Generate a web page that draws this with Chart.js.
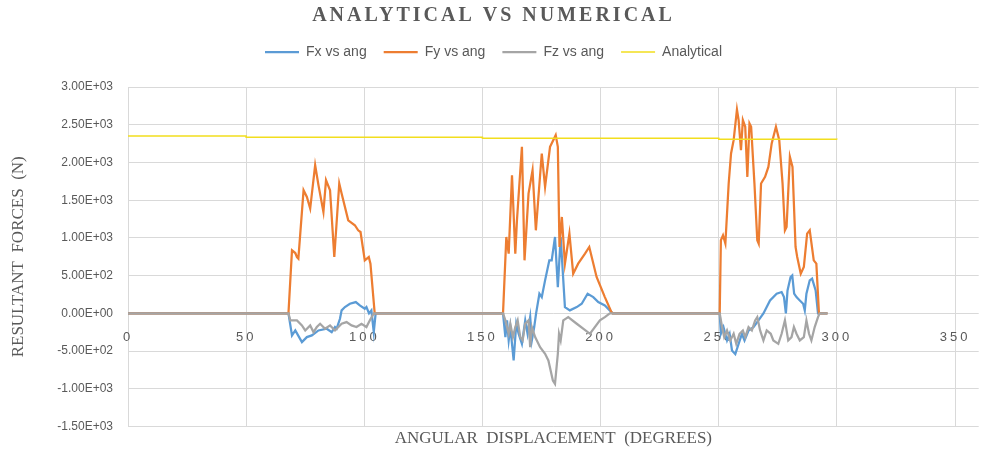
<!DOCTYPE html>
<html>
<head>
<meta charset="utf-8">
<title>Analytical vs Numerical</title>
<script src="https://cdn.jsdelivr.net/npm/chart.js@4/dist/chart.umd.min.js"></script>
<style>
  html, body { margin: 0; padding: 0; background: #ffffff; }
  #wrap { width: 982px; height: 453px; }
</style>
</head>
<body>
<div id="wrap"><canvas id="chart" width="982" height="453"></canvas></div>
<script>
// Resultant force components [angle (deg), force (N)]
const fxVsAng = [
  [0,0],
  [67.9,0],[69.4,-292],[70.8,-226],[73.6,-380],[75.7,-314],[77.8,-292],[80.6,-226],[84.1,-203],
  [86.2,-248],[87.6,-181],[88.3,-203],[89.7,-71],[90.4,40],[91.8,84],[93.9,128],[96.4,150],
  [98.1,106],[100.2,62],[100.9,84],[102.0,0],[103.0,40],[104.0,-248],[104.8,0],
  [158.7,0],[159.7,-314],[160.4,-93],[161.1,-358],[161.8,-181],[163.2,-624],[164.3,-137],
  [165.3,-270],[166.7,-403],[168.1,-93],[169.1,-270],[170.2,-49],[170.9,-358],[171.9,-181],
  [172.7,0],[174.1,261],[175.1,216],[176.5,438],[178.3,703],[179.3,703],[180.7,1013],
  [181.9,349],[183.1,1013],[184.9,84],[187.0,40],[189.9,84],[192.0,128],[194.5,261],
  [196.9,216],[199.0,150],[201.8,106],[204.6,17],[205.1,0],
  [250.4,0],[250.9,-270],[252.0,-181],[253.5,-358],[254.6,-270],[255.6,-491],[257.0,-540],
  [258.4,-403],[259.8,-270],[260.9,-358],[262.6,-226],[264.7,-181],[266.8,-93],[268.9,0],
  [271.7,172],[274.5,261],[276.6,283],[277.6,216],[278.4,0],[279.1,305],[280.4,482],
  [281.1,504],[281.9,261],[282.9,216],[284.3,172],[285.7,128],[286.4,40],[287.1,261],
  [288.5,438],[289.5,460],[291.0,305],[292.0,0],
  [296,0]
];

const fyVsAng = [
  [0,0],
  [67.9,0],[69.4,836],[70.8,800],[71.5,747],[72.1,726],[74.3,1632],[75.7,1544],[77.1,1389],
  [79.2,1964],[80.6,1700],[82.7,1345],[83.8,1765],[85.5,1632],[87.3,747],[89.4,1721],
  [90.4,1588],[93.2,1234],[96.0,1168],[97.4,1101],[98.4,1079],[100.2,703],[101.9,747],
  [102.6,659],[104.4,0],
  [158.7,0],[160.1,1013],[161.1,792],[162.5,1831],[163.9,792],[164.6,1234],[166.7,2207],
  [167.8,703],[169.5,1588],[171.2,1898],[172.6,1101],[175.1,2119],[176.5,1676],[178.6,2207],
  [181.0,2362],[181.9,2207],[182.6,880],[183.6,1278],[184.9,659],[186.8,1057],[188.4,527],
  [190.5,659],[193.4,792],[195.2,880],[198.3,482],[201.8,216],[204.6,17],[205.1,0],
  [250.4,0],[250.9,969],[251.8,1035],[252.8,925],[254.2,1721],[255.2,2119],[256.3,2296],
  [257.7,2700],[258.4,2561],[259.4,2163],[260.2,2561],[261.2,2473],[262.1,1809],[263.0,2517],
  [263.7,2473],[265.1,1721],[266.3,969],[266.9,925],[267.9,1721],[269.6,1809],[271.0,1941],
  [272.4,2252],[274.2,2473],[275.6,2296],[277.0,1721],[278.0,1101],[278.7,1145],[280.1,2075],
  [281.2,1941],[282.5,880],[283.2,747],[284.7,527],[286.0,614],[287.4,1057],[288.5,1101],
  [290.2,703],[291.3,659],[292.4,0],
  [296,0]
];

const fzVsAng = [
  [0,0],
  [67.9,0],[68.7,-93],[71.5,-93],[73.6,-159],[75.0,-226],[77.1,-159],[78.5,-248],[79.9,-181],
  [81.3,-137],[83.4,-203],[85.5,-159],[87.6,-226],[90.4,-137],[92.5,-115],[94.6,-159],
  [96.7,-181],[98.8,-137],[100.9,-181],[102.3,-93],[104.0,0],
  [158.7,0],[159.7,-93],[161.1,-270],[161.8,-137],[162.9,-314],[163.9,-181],[164.9,-93],
  [166.0,-314],[167.0,-358],[168.1,-137],[169.5,-93],[170.2,-447],[170.9,-181],[172.3,-314],
  [174.4,-447],[176.5,-535],[177.9,-624],[179.8,-889],[180.7,-933],[181.9,-535],[182.4,-270],
  [183.1,-358],[184.2,-93],[186.3,-49],[189.9,-137],[195.5,-270],[199.7,-93],[201.8,-49],
  [203.9,0],
  [250.4,0],[251.4,-181],[252.3,-314],[253.5,-226],[254.9,-358],[256.3,-270],[257.4,-403],
  [258.8,-270],[260.2,-226],[261.2,-314],[262.6,-181],[264.0,-226],[265.4,-93],[266.3,-49],
  [267.5,-226],[268.9,-358],[270.3,-226],[272.0,-270],[273.1,-358],[275.2,-403],[276.6,-270],
  [278.0,-93],[279.4,-358],[280.8,-314],[281.8,-181],[282.9,-270],[284.3,-358],[286.0,-314],
  [287.1,-93],[288.2,-270],[289.2,-358],[290.6,-181],[292.0,-49],[292.7,0],
  [296,0]
];

// Analytical resultant, held constant between steps
const analyticalForce = [[0,2350],[50,2335],[150,2320],[250,2308],[300,2305]];

// Axis ticks
const angleTicks = [0, 50, 100, 150, 200, 250, 300, 350];
const forceTicks = [-1500, -1000, -500, 0, 500, 1000, 1500, 2000, 2500, 3000];

const textGray = '#595959';
const gridGray = '#d9d9d9';
const serif = '"Liberation Serif", "Times New Roman", serif';
const sans = '"Liberation Sans", Arial, sans-serif';

const toXY = pts => pts.map(([x, y]) => ({ x, y }));

// 3.00E+03 style labels
const sci = v => {
  const [m, e] = Number(v).toExponential(2).split('e');
  const n = parseInt(e, 10);
  return m + 'E' + (n < 0 ? '-' : '+') + String(Math.abs(n)).padStart(2, '0');
};

// Letter-spaced text for the title and angle labels, extra room under the legend
const withSpacing = (obj, method, spacing) => {
  if (!obj || obj['_spaced_' + method]) return;
  const orig = obj[method];
  obj[method] = function (...args) {
    const c = this.ctx;
    c.save();
    c.letterSpacing = spacing;
    orig.apply(this, args);
    c.restore();
    c.letterSpacing = '0px';
  };
  obj['_spaced_' + method] = true;
};

const layoutTweaks = {
  id: 'layoutTweaks',
  afterInit(chart) {
    const legend = chart.legend;
    const fit = legend.fit;
    legend.fit = function () {
      fit.call(this);
      this.height += 18;
    };
    withSpacing(chart.titleBlock, 'draw', '3px');
  },
  beforeLayout(chart) {
    withSpacing(chart.scales.x, 'drawLabels', '3px');
  }
};

const line = (label, pts, color, width, order, extra) => Object.assign({
  label,
  data: toXY(pts),
  borderColor: color,
  backgroundColor: color,
  borderWidth: width,
  pointRadius: 0,
  pointHoverRadius: 0,
  pointStyle: 'line',
  tension: 0,
  fill: false,
  order
}, extra || {});

new Chart(document.getElementById('chart'), {
  type: 'line',
  data: {
    datasets: [
      line('Fx vs ang', fxVsAng, '#5B9BD5', 2.25, 4),
      line('Fy vs ang', fyVsAng, '#ED7D31', 2.25, 3),
      line('Fz vs ang', fzVsAng, '#A5A5A5', 2.25, 2),
      line('Analytical', analyticalForce, '#F2DE1E', 1.5, 1, { stepped: true })
    ]
  },
  options: {
    responsive: false,
    animation: false,
    devicePixelRatio: 1,
    events: [],
    layout: { padding: { top: 0, right: 3, bottom: 0, left: 8 } },
    plugins: {
      title: {
        display: true,
        text: 'ANALYTICAL VS NUMERICAL',
        color: textGray,
        font: { family: serif, size: 20, weight: 'bold' },
        padding: { top: 4, bottom: 0 }
      },
      subtitle: {
        display: true,
        position: 'bottom',
        fullSize: false,
        text: 'ANGULAR  DISPLACEMENT  (DEGREES)',
        color: textGray,
        font: { family: serif, size: 17, weight: 'normal' },
        padding: { top: 2, bottom: 4 }
      },
      legend: {
        position: 'top',
        labels: {
          usePointStyle: true,
          pointStyle: 'line',
          pointStyleWidth: 34,
          padding: 17,
          color: textGray,
          font: { family: sans, size: 14 },
          sort: (a, b) => a.datasetIndex - b.datasetIndex
        }
      },
      tooltip: { enabled: false }
    },
    scales: {
      x: {
        type: 'linear',
        position: { y: 0 },
        min: 0,
        max: 360,
        afterBuildTicks: scale => { scale.ticks = angleTicks.map(value => ({ value })); },
        grid: { color: gridGray, lineWidth: 1, drawTicks: false },
        border: { display: false },
        ticks: {
          padding: 16,
          color: textGray,
          font: { family: sans, size: 13 },
          maxRotation: 0,
          callback: v => String(v)
        }
      },
      y: {
        type: 'linear',
        min: -1500,
        max: 3000,
        afterBuildTicks: scale => { scale.ticks = forceTicks.map(value => ({ value })); },
        afterFit: scale => { scale.width = 120; },
        grid: { color: gridGray, lineWidth: 1, drawTicks: false },
        border: { display: false },
        ticks: {
          padding: 15,
          color: textGray,
          font: { family: sans, size: 12 },
          callback: v => sci(v)
        },
        title: {
          display: true,
          text: 'RESULTANT  FORCES  (N)',
          color: textGray,
          font: { family: serif, size: 17, weight: 'normal' },
          padding: { top: 0, bottom: 0 }
        }
      }
    }
  },
  plugins: [layoutTweaks]
});
</script>
</body>
</html>
